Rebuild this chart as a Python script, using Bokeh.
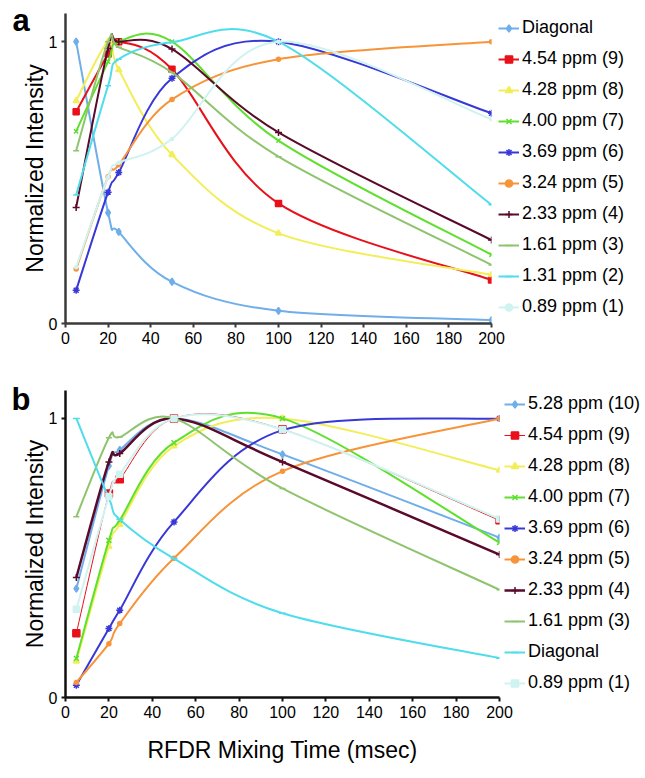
from bokeh.plotting import figure
from bokeh.models import Legend, LegendItem, FixedTicker, Range1d, ColumnDataSource
from bokeh.layouts import column
from bokeh.embed import file_html
from bokeh.resources import INLINE

# ---------------- data ----------------
mix_time = [5, 20, 25, 50, 100, 200]
x_ticks = [0, 20, 40, 60, 80, 100, 120, 140, 160, 180, 200]
y_ticks = [0, 1]

a_labels = ["Diagonal", "4.54 ppm (9)", "4.28 ppm (8)", "4.00 ppm (7)", "3.69 ppm (6)",
            "3.24 ppm (5)", "2.33 ppm (4)", "1.61 ppm (3)", "1.31 ppm (2)", "0.89 ppm (1)"]
a_diagonal = [1.0, 0.393, 0.325, 0.148, 0.045, 0.012]
a_454 = [0.751, 0.956, 1.0, 0.902, 0.426, 0.154]
a_428 = [0.79, 1.0, 0.90, 0.599, 0.320, 0.173]
a_400 = [0.682, 0.929, 1.0, 1.0, 0.649, 0.244]
a_369 = [0.118, 0.466, 0.536, 0.870, 1.0, 0.746]
a_324 = [0.193, 0.521, 0.563, 0.795, 0.938, 1.0]
a_233 = [0.412, 0.976, 1.0, 0.974, 0.678, 0.296]
a_161 = [0.613, 1.0, 0.98, 0.891, 0.592, 0.208]
a_131 = [0.456, 0.844, 0.938, 0.998, 1.0, 0.421]
a_089 = [0.20, 0.52, 0.57, 0.655, 1.0, 0.725]
a_series = [a_diagonal, a_454, a_428, a_400, a_369, a_324, a_233, a_161, a_131, a_089]

b_labels = ["5.28 ppm (10)", "4.54 ppm (9)", "4.28 ppm (8)", "4.00 ppm (7)", "3.69 ppm (6)",
            "3.24 ppm (5)", "2.33 ppm (4)", "1.61 ppm (3)", "Diagonal", "0.89 ppm (1)"]
b_528 = [0.390, 0.83, 0.887, 1.0, 0.871, 0.573]
b_454 = [0.230, 0.731, 0.782, 1.0, 0.961, 0.635]
b_428 = [0.13, 0.541, 0.62, 0.901, 1.0, 0.814]
b_400 = [0.140, 0.563, 0.635, 0.913, 1.0, 0.555]
b_369 = [0.044, 0.247, 0.313, 0.629, 0.958, 1.0]
b_324 = [0.054, 0.193, 0.265, 0.499, 0.811, 1.0]
b_233 = [0.430, 0.844, 0.874, 1.0, 0.844, 0.512]
b_161 = [0.648, 0.931, 0.933, 1.0, 0.749, 0.386]
b_diagonal = [1.0, 0.714, 0.638, 0.498, 0.302, 0.141]
b_089 = [0.316, 0.72, 0.80, 1.0, 0.96, 0.64]
b_series = [b_528, b_454, b_428, b_400, b_369, b_324, b_233, b_161, b_diagonal, b_089]

# ---------------- styles ----------------
LIGHTBLUE = "#6FAEE8"
RED = "#E8101A"
YELLOW = "#F2EE5A"
GREEN = "#5FE02E"
BLUE = "#3838D8"
ORANGE = "#F7943A"
MAROON = "#5A0A2A"
OLIVE = "#8FC46E"
CYAN = "#4FDDEB"
PALE = "#CFF3F0"

a_styles = [
    (LIGHTBLUE, "diamond", 7, 2),
    (RED, "square", 6, 2),
    (YELLOW, "triangle", 6, 2),
    (GREEN, "x", 6, 2),
    (BLUE, "asterisk", 7, 2),
    (ORANGE, "circle", 4, 2),
    (MAROON, "cross", 7, 2),
    (OLIVE, "dash", 6, 2),
    (CYAN, "dash", 6, 2),
    (PALE, "circle", 3, 2),
]
b_styles = [
    (LIGHTBLUE, "diamond", 7, 2),
    (RED, "square", 7, 1),
    (YELLOW, "triangle", 6, 2),
    (GREEN, "x", 7, 2),
    (BLUE, "asterisk", 7, 2),
    (ORANGE, "circle", 4, 2),
    (MAROON, "cross", 7, 2.5),
    (OLIVE, "dash", 6, 2),
    (CYAN, "dash", 7, 2),
    (PALE, "square", 6, 2),
]

FONT = "Liberation Sans"


def smooth_segments(xs, ys):
    """Bezier control points (Catmull-Rom style, as in spreadsheet smoothed lines)."""
    n = len(xs)
    d = dict(x0=[], y0=[], x1=[], y1=[], cx0=[], cy0=[], cx1=[], cy1=[])
    for i in range(n - 1):
        ip = max(i - 1, 0)
        inn = min(i + 2, n - 1)
        d["x0"].append(xs[i]); d["y0"].append(ys[i])
        d["x1"].append(xs[i + 1]); d["y1"].append(ys[i + 1])
        d["cx0"].append(xs[i] + (xs[i + 1] - xs[ip]) / 6.0)
        d["cy0"].append(ys[i] + (ys[i + 1] - ys[ip]) / 6.0)
        d["cx1"].append(xs[i + 1] - (xs[inn] - xs[i]) / 6.0)
        d["cy1"].append(ys[i + 1] - (ys[inn] - ys[i]) / 6.0)
    return d


def make_panel(series, labels, styles, letter, fw, fh, bl, br, bt, bb,
               axis_color, leg_xy, letter_offset, letter_standoff, show_xtitle):
    p = figure(output_backend="svg", toolbar_location=None,
               frame_width=fw, frame_height=fh,
               min_border_left=bl, min_border_right=br,
               min_border_top=bt, min_border_bottom=bb,
               x_range=Range1d(0, 200), y_range=Range1d(0, 1.1))
    p.outline_line_color = None
    p.grid.visible = False
    p.background_fill_color = "white"
    p.border_fill_color = "white"

    # panel letter as the (left aligned, pulled down) title
    p.title.text = letter
    p.title.align = "left"
    p.title.vertical_align = "bottom"
    p.title.offset = letter_offset
    p.title.standoff = letter_standoff
    p.title.text_font = FONT
    p.title.text_font_style = "bold"
    p.title.text_font_size = "31px"
    p.title.text_color = "black"

    p.xaxis.ticker = FixedTicker(ticks=x_ticks)
    p.yaxis.ticker = FixedTicker(ticks=y_ticks)
    for ax in (p.xaxis[0], p.yaxis[0]):
        ax.axis_line_color = axis_color
        ax.axis_line_width = 2.5
        ax.major_tick_line_color = axis_color
        ax.major_tick_line_width = 2
        ax.major_tick_out = 4
        ax.major_tick_in = 0
        ax.minor_tick_line_color = None
        ax.major_label_text_font = FONT
        ax.major_label_text_font_size = "16px"
        ax.major_label_text_color = "black"
        ax.major_label_standoff = 4
        ax.axis_label_text_font = FONT
        ax.axis_label_text_font_style = "normal"
        ax.axis_label_text_font_size = "23px"
        ax.axis_label_text_color = "black"
    p.yaxis.axis_label = "Normalized Intensity"
    p.yaxis.axis_label_standoff = -2
    if show_xtitle:
        p.xaxis.axis_label = "RFDR Mixing Time (msec)"
        p.xaxis.axis_label_standoff = 16

    items = []
    for ys, lab, (col, mk, sz, lw) in zip(series, labels, styles):
        src = ColumnDataSource(smooth_segments(mix_time, ys))
        curve = p.bezier(x0="x0", y0="y0", x1="x1", y1="y1", cx0="cx0", cy0="cy0",
                         cx1="cx1", cy1="cy1", source=src, line_color=col, line_width=lw)
        sc = p.scatter(mix_time, ys, marker=mk, size=sz, fill_color=col,
                       line_color=col, line_width=1.5)
        items.append(LegendItem(label=lab, renderers=[curve, sc]))

    leg = Legend(items=items, location=leg_xy)
    leg.label_text_font = FONT
    leg.label_text_font_size = "18px"
    leg.label_text_color = "black"
    leg.label_standoff = 3
    leg.glyph_width = 21
    leg.glyph_height = 18
    leg.label_height = 21
    leg.spacing = 10
    leg.padding = 0
    leg.margin = 0
    leg.border_line_color = None
    leg.background_fill_alpha = 0
    p.add_layout(leg, "right")
    return p


pa = make_panel(a_series, a_labels, a_styles, "a",
                fw=426, fh=310, bl=64, br=155, bt=13, bb=32,
                axis_color="#3a3a3a", leg_xy=(7, 6),
                letter_offset=-53, letter_standoff=-48, show_xtitle=False)
pb = make_panel(b_series, b_labels, b_styles, "b",
                fw=434, fh=307, bl=65, br=146, bt=35, bb=75,
                axis_color="#111111", leg_xy=(5, 4),
                letter_offset=-54, letter_standoff=-53, show_xtitle=True)

layout = column(pa, pb, spacing=0)
open("out.html", "w").write(file_html(layout, INLINE))
